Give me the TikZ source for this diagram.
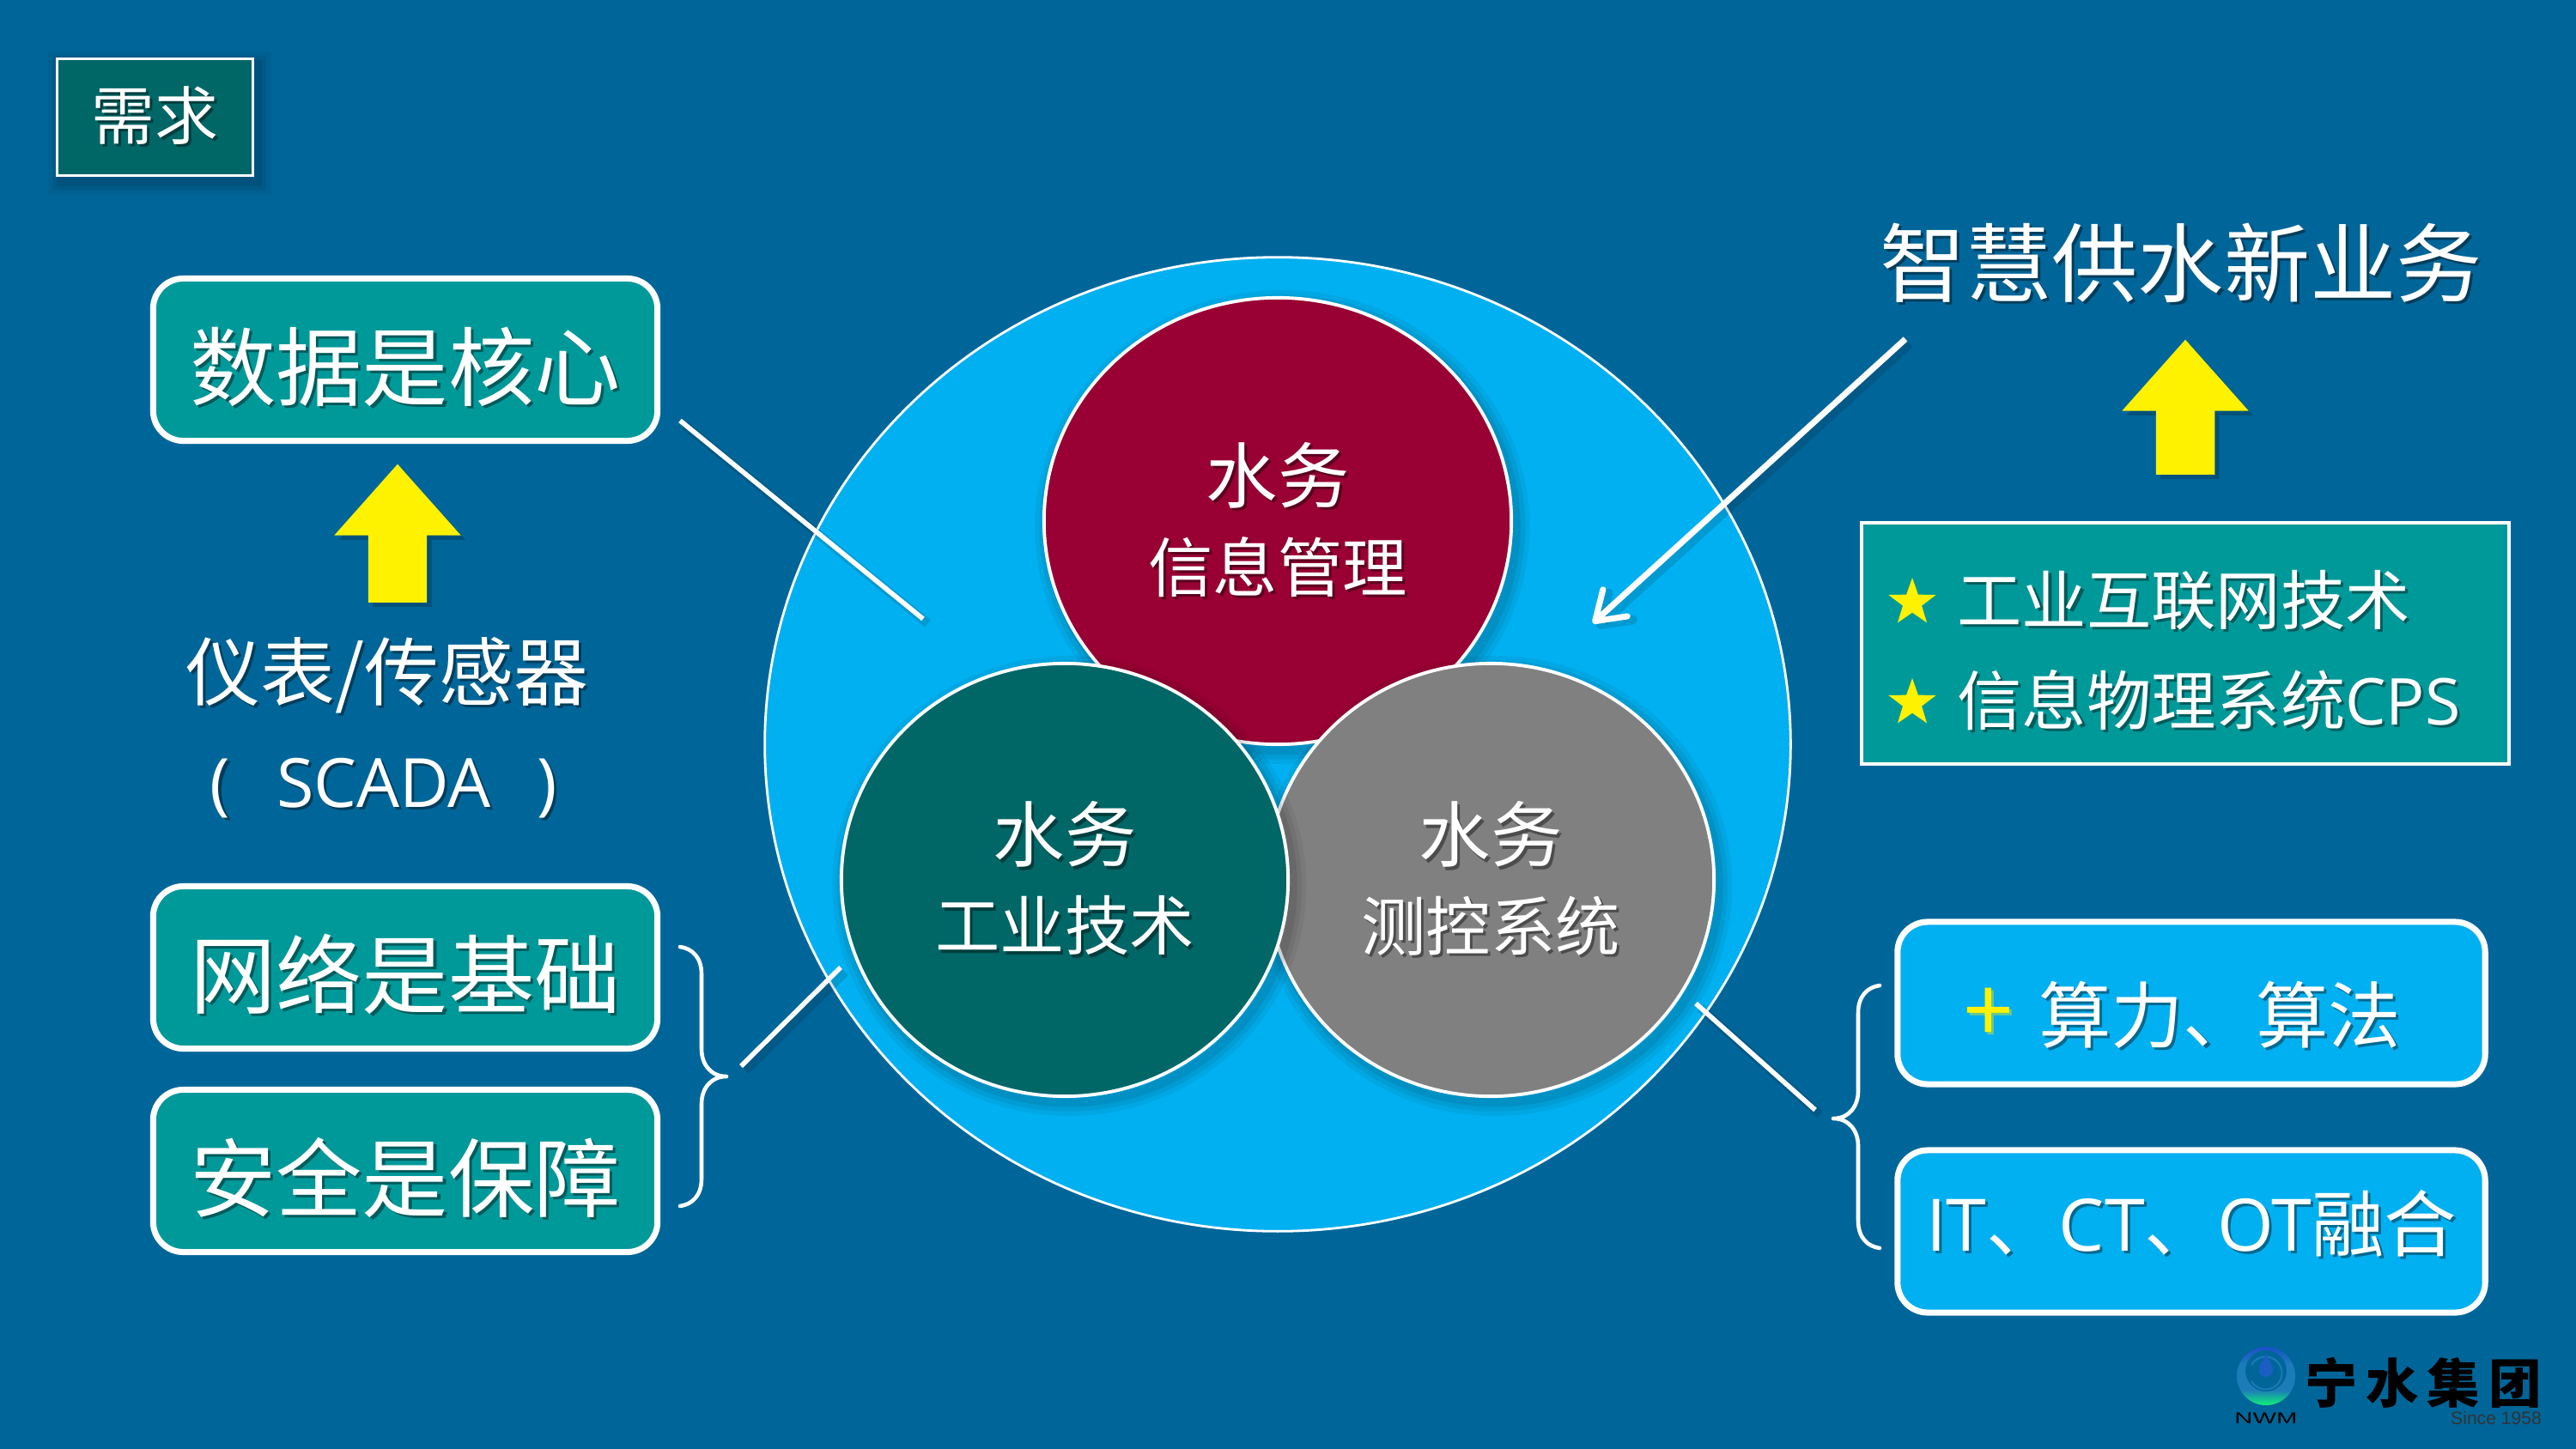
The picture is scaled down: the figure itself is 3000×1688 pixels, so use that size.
\documentclass[tikz,border=0pt]{standalone}
\usepackage{fontspec}
\setmainfont{Noto Sans CJK SC}
\newfontfamily\latinfont{Open Sans}
\newfontfamily\logofont{Liberation Sans}
\usetikzlibrary{arrows.meta,shapes.geometric,shapes.arrows}
\definecolor{bgblue}{HTML}{006699}
\definecolor{skyblue}{HTML}{00B0F0}
\definecolor{tealbox}{HTML}{009999}
\definecolor{darkteal}{HTML}{006666}
\definecolor{wine}{HTML}{990033}
\definecolor{midgray}{HTML}{808080}
\definecolor{ringtop}{HTML}{1A50C8}
\definecolor{ringmid}{HTML}{1C7CB8}
\definecolor{ringlow}{HTML}{10F078}
\pgfdeclareverticalshading{logoring}{100bp}{color(0bp)=(ringlow);color(25bp)=(ringlow);color(38bp)=(ringmid);color(60bp)=(ringmid);color(75bp)=(ringtop);color(100bp)=(ringtop)}
\newcommand{\shtext}[1]{\leavevmode\rlap{\kern.9pt\raisebox{-.9pt}{\pgfsetfillopacity{.4}\color{black}#1\pgfsetfillopacity{1}}}#1}
\newcommand{\sizeA}{\fontsize{28.5pt}{34pt}\selectfont}
\newcommand{\sizeB}{\fontsize{24pt}{29pt}\selectfont}
\newcommand{\sizeC}{\fontsize{21.4pt}{26pt}\selectfont}
\tikzset{
  softshadow/.style={
    preaction={draw=black,opacity=.05,line width=9pt,transform canvas={shift={(1.5pt,-2pt)}}},
    preaction={draw=black,opacity=.06,line width=6pt,transform canvas={shift={(1.5pt,-2pt)}}},
    preaction={draw=black,opacity=.08,line width=3pt,transform canvas={shift={(1.5pt,-2pt)}}}},
  lineshadow/.style={
    preaction={draw=black,opacity=.12,line width=3pt,transform canvas={shift={(1.5pt,-1.5pt)}}}},
  wheel/.style={ellipse,draw=white,line width=1.1pt,text=white,inner sep=0pt,align=center,softshadow},
  databox/.style={rectangle,rounded corners=10pt,draw=white,line width=2pt,text=white,
    minimum width=5.87cm,minimum height=1.89cm,inner sep=0pt,fill=tealbox,font=\sizeA,
    text height=28pt,text depth=1.8pt},
  skybox/.style={databox,fill=skyblue,minimum width=6.84cm,font=\sizeB},
  plainlabel/.style={text=white,inner sep=0pt},
  yellowup/.style={single arrow,fill=yellow,rotate=90,minimum width=1.46cm,
    single arrow head extend=.395cm,single arrow tip angle=83.3,inner xsep=0pt,inner ysep=.335cm},
  yellowstar/.style={star,star points=5,star point ratio=2.5,fill=yellow,
    minimum size=.58cm,inner sep=0pt},
  link/.style={draw=white,line width=1.6pt,lineshadow},
  bracket/.style={draw=white,line width=1.3pt,line cap=round,line join=round},
}
\begin{document}
\begin{tikzpicture}[x=0.01cm,y=-0.01cm]
  \useasboundingbox (0,0) rectangle (3000,1688);
  \fill[bgblue] (0,0) rectangle (3000,1688);
  % heading
  \node (need) at (180.5,136.5) [rectangle,draw=white,line width=.8pt,fill=darkteal,text=white,
    minimum width=2.28cm,minimum height=1.36cm,inner sep=0pt,font=\fontsize{21pt}{25pt}\selectfont,softshadow] {\shtext{需求}};
  % the wheel
  \node (outer) at (1488,867) [ellipse,draw=white,line width=.8pt,fill=skyblue,
    minimum width=11.94cm,minimum height=11.34cm,inner sep=0pt] {};
  \node (info) at (1488,607) [wheel,fill=wine,minimum width=5.44cm,minimum height=5.2cm]
    {{\fontsize{23.7pt}{30.4pt}\selectfont\shtext{水务}}\\[7.5pt]{\sizeC\shtext{信息管理}}};
  \node (measure) at (1736,1025) [wheel,fill=midgray,minimum width=5.2cm,minimum height=5.04cm]
    {{\fontsize{23.7pt}{30.4pt}\selectfont\shtext{水务}}\\[7.5pt]{\sizeC\shtext{测控系统}}};
  \node (tech) at (1240,1025) [wheel,fill=darkteal,minimum width=5.2cm,minimum height=5.04cm]
    {{\fontsize{23.7pt}{30.4pt}\selectfont\shtext{水务}}\\[7.5pt]{\sizeC\shtext{工业技术}}};
  % left column
  \node (core) at (472,419) [databox] {\shtext{数据是核心}};
  \node (upL) at (463,640.5) [yellowup,minimum height=1.61cm,
    preaction={draw=none,fill=black,opacity=.2,transform canvas={shift={(1.5pt,-1.5pt)}}}] {};
  \node (meter) at (451,788) [plainlabel,font=\fontsize{24.7pt}{30pt}\selectfont] {\shtext{仪表/传感器}};
  \node (scada) at (447,920) [plainlabel,font=\latinfont\fontsize{22.5pt}{26pt}\selectfont] {\shtext{(\hspace{.68em}SCADA\hspace{.68em})}};
  \node (net) at (472,1127) [databox] {\shtext{网络是基础}};
  \node (safe) at (472,1364) [databox] {\shtext{安全是保障}};
  % right column
  \node (smart) at (2540,308) [plainlabel,font=\sizeA] {\shtext{智慧供水新业务}};
  \node (upR) at (2545,493.5) [yellowup,minimum height=1.57cm,
    preaction={draw=none,fill=black,opacity=.2,transform canvas={shift={(1.5pt,-1.5pt)}}}] {};
  \node (iiot) at (2545,749.5) [rectangle,draw=white,line width=1.1pt,fill=tealbox,
    minimum width=7.54cm,minimum height=2.81cm,inner sep=0pt] {};
  \node (starA) at (2227,702) [yellowstar] {};
  \node (starB) at (2227,819) [yellowstar] {};
  \node (iiotA) at (2279,701) [plainlabel,anchor=west,font=\sizeC] {\shtext{工业互联网技术}};
  \node (iiotB) at (2279,817) [plainlabel,anchor=west,font=\sizeC] {\shtext{信息物理系统{\latinfont CPS}}};
  \node (calc) at (2552,1168.5) [skybox] {\hspace*{18.8pt}\shtext{\llap{{\color{yellow}\fontsize{29pt}{29pt}\selectfont +}\hskip 8.5pt}算力、算法}};
  \node (merge) at (2552,1434.5) [skybox,text height=21.5pt,text depth=8.3pt] {\shtext{{\latinfont IT}、{\latinfont CT}、{\latinfont OT}融合}};
  % links
  \coordinate (coreEnd) at (792,490);
  \coordinate (wheelL) at (1075,721);
  \coordinate (smartEnd) at (2219,395);
  \coordinate (wheelR) at (1855,726);
  \coordinate (braceL) at (863,1242);
  \coordinate (techEnd) at (979,1127);
  \coordinate (measureEnd) at (1975,1169);
  \coordinate (braceR) at (2114,1293);
  \draw[link] (coreEnd) -- (wheelL);
  \draw[link,line width=2pt,-{Straight Barb[length=9pt,width=12pt,round]}] (smartEnd) -- (wheelR);
  \draw[link] (braceL) -- (techEnd);
  \draw[link] (measureEnd) -- (braceR);
  % braces
  \draw[bracket] (792,1103) .. controls (806,1105) and (817,1115) .. (817,1135)
    -- (817,1222) .. controls (817,1240) and (828,1254) .. (846,1254)
    .. controls (828,1254) and (817,1268) .. (817,1286)
    -- (817,1373) .. controls (817,1393) and (806,1403) .. (792,1405);
  \draw[bracket] (2189,1148) .. controls (2175,1150) and (2164,1160) .. (2164,1180)
    -- (2164,1271) .. controls (2164,1289) and (2153,1303) .. (2135,1303)
    .. controls (2153,1303) and (2164,1317) .. (2164,1335)
    -- (2164,1422) .. controls (2164,1442) and (2175,1452) .. (2189,1454);
  % logo
  \shade[even odd rule,shading=logoring]
    (2639,1603) circle (34) (2639,1597) circle (24);
  \draw[ringmid,line width=.5pt] (2622,1590) arc (210:510:19);
  \fill[ringtop!70!ringmid] (2639,1576) .. controls (2642,1586) and (2648,1590) .. (2647,1598)
    .. controls (2645,1606) and (2633,1606) .. (2631,1598)
    .. controls (2630,1590) and (2636,1586) .. (2639,1576);
  \node (logoName) at (2822,1611) [inner sep=0pt,text=black,font=\bfseries\fontsize{17.5pt}{20pt}\selectfont] {宁\hspace{.16em}水\hspace{.16em}集\hspace{.16em}团};
  \node (logoMark) at (2639,1652) [inner sep=0pt,text=black,xscale=1.6,font=\logofont\fontsize{5.2pt}{6pt}\selectfont] {NWM};
  \node (logoYear) at (2907,1652) [inner sep=0pt,text=black!80,font=\logofont\fontsize{6pt}{7pt}\selectfont] {Since 1958};
\end{tikzpicture}
\end{document}
